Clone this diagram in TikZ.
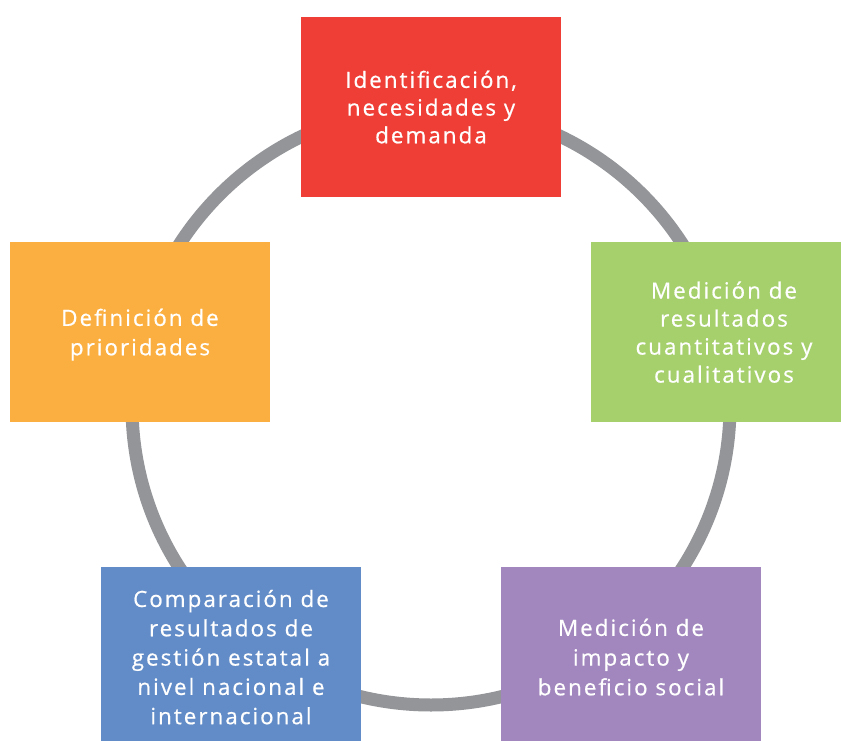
\documentclass[tikz,border=0pt]{standalone}
\usepackage{fontspec}
\newfontfamily\boxfont[LetterSpace=9, FakeBold=0.6]{Open Sans}
\definecolor{cred}{RGB}{239,62,54}
\definecolor{cgreen}{RGB}{166,208,108}
\definecolor{corange}{RGB}{251,175,64}
\definecolor{cblue}{RGB}{98,140,199}
\definecolor{cpurple}{RGB}{161,135,189}
\definecolor{cgray}{RGB}{147,149,152}
\begin{document}
\begin{tikzpicture}[x=1pt,y=-1pt,
  box/.style={rectangle, inner sep=0pt, minimum width=260pt, minimum height=180pt,
    text=white, align=center, text depth=0pt},
  lead/.style={font=\boxfont\fontsize{22.4}{#1}\selectfont}]
\useasboundingbox (0,0) rectangle (841,741);
\fill[white] (0,0) rectangle (841,741);
\node[circle, draw=cgray, line width=13pt, minimum size=598pt, inner sep=0pt] (ring) at (431,406) {};
\node[box, lead=27.7, fill=cred] (ident) at (431,107) {Identificación,\\necesidades y\\demanda};
\node[box, lead=28, fill=cgreen, minimum width=266pt] (medres) at (724,332) {Medición de\\resultados\\cuantitativos y\\cualitativos};
\node[box, lead=29.4, fill=corange] (defpri) at (140,332) {Definición de\\prioridades};
\node[box, lead=29.3, fill=cblue] (compar) at (231,657) {Comparación de\\resultados de\\gestión estatal a\\nivel nacional e\\internacional};
\node[box, lead=29.7, fill=cpurple] (medimp) at (631,657) {Medición de\\impacto y\\beneficio social};
\end{tikzpicture}
\end{document}
